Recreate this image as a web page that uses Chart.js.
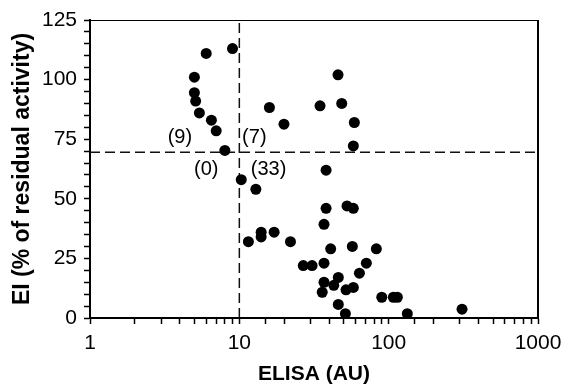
<!DOCTYPE html>
<html>
<head>
<meta charset="utf-8">
<script src="https://cdn.jsdelivr.net/npm/chart.js@4.4.1/dist/chart.umd.min.js"></script>
<style>
  html, body { margin: 0; padding: 0; background: #fff; }
  #wrap { width: 563px; height: 388px; }
</style>
</head>
<body>
<div id="wrap"><canvas id="elisa-chart"></canvas></div>
<script>
// ELISA (AU) vs EI (% residual activity), one entry per sample
const elisa = [
    6.0, 9.0, 5.0, 5.0, 5.1, 5.4, 6.5, 7.0, 8.0,
    15.9, 19.9, 45.8, 34.7, 48.5, 58.9, 58.0,
    10.3, 12.9, 38.1, 11.5, 14.0, 14.0, 17.1, 22.0, 38.1, 36.9, 52.6, 58.0,
    40.9, 57.1, 82.7, 26.8, 30.7, 36.9, 70.9, 63.7, 36.9, 46.0, 42.9, 35.9,
    51.8, 58.0, 89.9, 107.5, 114.3, 46.0, 51.3, 133.3, 310
];
const ei = [
    111, 113, 101, 94.5, 91, 86, 83, 78.5, 70.3,
    88.3, 81.3, 102, 89, 90, 82, 72.2,
    58, 54, 62, 32, 34, 36, 36, 32, 46, 39.3, 47, 46,
    29, 30, 29, 22, 22, 23, 23, 18.8, 15, 17, 13.7, 10.8,
    11.8, 12.8, 8.7, 8.7, 8.7, 5.7, 1.8, 1.8, 3.7
];

const elisaCutoff = 10;
const eiCutoff = 69.5;

const quadrantLabels = ['(9)', '(7)', '(0)', '(33)'];
const quadrantX = [4.0, 12.6, 6.0, 15.7];
const quadrantY = [75.8, 75.8, 62.4, 62.4];

const fontFamily = "'Liberation Sans', Arial, sans-serif";

document.addEventListener('DOMContentLoaded', function () {
    const points = elisa.map((x, i) => ({ x: x, y: ei[i] }));

    const dashStyle = {
        showLine: true,
        borderColor: '#111',
        borderWidth: 1.5,
        borderDash: [10, 5],
        pointRadius: 0,
        fill: false
    };

    // top and right sides of the plot frame
    const frame = {
        id: 'frame',
        afterDraw(chart) {
            const a = chart.chartArea;
            const ctx = chart.ctx;
            ctx.save();
            ctx.strokeStyle = '#000';
            ctx.lineWidth = 1;
            ctx.beginPath();
            ctx.moveTo(a.left, a.top + 0.5);
            ctx.lineTo(a.right, a.top + 0.5);
            ctx.stroke();
            ctx.lineWidth = 2;
            ctx.beginPath();
            ctx.moveTo(a.right, a.top);
            ctx.lineTo(a.right, a.bottom);
            ctx.stroke();
            ctx.restore();
        }
    };

    const quadrantText = {
        id: 'quadrantText',
        afterDatasetsDraw(chart) {
            const ctx = chart.ctx;
            const xs = chart.scales.x, ys = chart.scales.y;
            ctx.save();
            ctx.fillStyle = '#000';
            ctx.font = '20px ' + fontFamily;
            ctx.textAlign = 'center';
            ctx.textBaseline = 'middle';
            quadrantLabels.forEach((t, i) => {
                ctx.fillText(t, xs.getPixelForValue(quadrantX[i]), ys.getPixelForValue(quadrantY[i]));
            });
            ctx.restore();
        }
    };

    const ctx = document.getElementById('elisa-chart').getContext('2d');
    new Chart(ctx, {
        type: 'scatter',
        data: {
            datasets: [
                {
                    label: 'samples',
                    data: points,
                    backgroundColor: '#000',
                    borderWidth: 0,
                    pointRadius: 5.5
                },
                Object.assign({ label: 'ELISA cutoff', data: [{ x: elisaCutoff, y: 0 }, { x: elisaCutoff, y: 125 }] }, dashStyle),
                Object.assign({ label: 'EI cutoff', data: [{ x: 1, y: eiCutoff }, { x: 1000, y: eiCutoff }] }, dashStyle)
            ]
        },
        options: {
            responsive: true,
            maintainAspectRatio: false,
            animation: false,
            events: [],
            layout: { padding: { top: 20, right: 25, left: 0, bottom: 0 } },
            plugins: {
                legend: { display: false },
                tooltip: { enabled: false }
            },
            scales: {
                x: {
                    type: 'logarithmic',
                    min: 1,
                    max: 1000,
                    border: { color: '#000', width: 2 },
                    grid: { drawOnChartArea: false, tickLength: 6, tickColor: '#000', tickWidth: 1.5 },
                    ticks: {
                        autoSkip: false,
                        maxRotation: 0,
                        padding: 7,
                        color: '#000',
                        font: { size: 21, family: fontFamily },
                        callback: function (v) {
                            const l = Math.log10(v);
                            return Math.abs(l - Math.round(l)) < 1e-9 ? String(Math.round(v)) : '';
                        }
                    },
                    title: {
                        display: true,
                        text: 'ELISA (AU)',
                        color: '#000',
                        font: { size: 21, weight: 'bold', family: fontFamily },
                        padding: { top: 0, bottom: 1 }
                    },
                    afterFit: function (s) {
                        s.height = 70;
                        s.paddingLeft = 0;
                        s.paddingRight = 0;
                    }
                },
                y: {
                    min: 0,
                    max: 125,
                    border: { color: '#000', width: 2 },
                    grid: { drawOnChartArea: false, tickLength: 6, tickColor: '#000', tickWidth: 1.5 },
                    ticks: {
                        stepSize: 5,
                        autoSkip: false,
                        padding: 7,
                        color: '#000',
                        font: { size: 21, family: fontFamily },
                        callback: function (v) { return v % 25 === 0 ? v : ''; }
                    },
                    title: {
                        display: true,
                        text: 'EI (% of residual activity)',
                        color: '#000',
                        font: { size: 23, weight: 'bold', family: fontFamily },
                        padding: { top: 9, bottom: 0 }
                    },
                    afterFit: function (s) { s.width = 90; }
                }
            }
        },
        plugins: [frame, quadrantText]
    });
});
</script>
</body>
</html>
